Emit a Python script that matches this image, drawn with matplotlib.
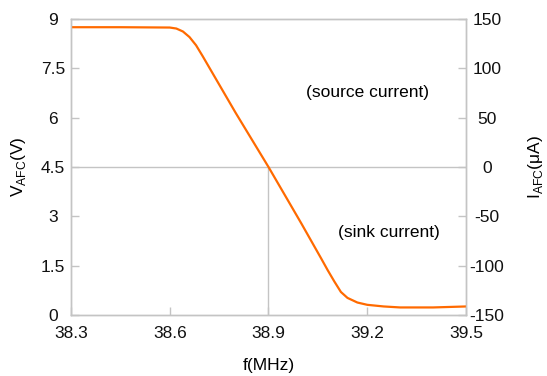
import matplotlib
matplotlib.use("Agg")
import matplotlib.pyplot as plt
import numpy as np

plt.rcParams['font.family'] = ['Liberation Sans', 'DejaVu Sans']
plt.rcParams['mathtext.fontset'] = 'custom'
plt.rcParams['mathtext.rm'] = 'Liberation Sans'

# curve
freq = [38.30, 38.45, 38.60, 38.62, 38.64, 38.66, 38.68, 38.70, 38.80, 38.90,
        39.00, 39.06, 39.08, 39.10, 39.12, 39.14, 39.17, 39.20, 39.25, 39.30, 39.40, 39.50]
vafc = [8.75, 8.75, 8.74, 8.71, 8.62, 8.45, 8.20, 7.87, 6.15, 4.50,
        2.78, 1.72, 1.36, 1.02, 0.70, 0.52, 0.38, 0.31, 0.26, 0.23, 0.23, 0.26]

xticks = [38.3, 38.6, 38.9, 39.2, 39.5]
vticks = [0, 1.5, 3, 4.5, 6, 7.5, 9]
vlabels = ['0', '1.5', '3', '4.5', '6', '7.5', '9']
iticks = [-150, -100, -50, 0, 50, 100, 150]

fzero = 38.9
vzero = 4.5

orange = '#ff6a00'
gray = '#c4c4c4'
fs = 12.5

fig = plt.figure(figsize=(5.47, 3.76), dpi=100)
ax = fig.add_axes([0.1298, 0.1622, 0.7221, 0.7873])
ax.plot(freq, vafc, color=orange, lw=1.6, zorder=3)
ax.axhline(vzero, color=gray, lw=1.0, zorder=1)
ax.plot([fzero, fzero], [0, vzero], color=gray, lw=1.0, zorder=1)

ax.set_xlim(38.3, 39.5)
ax.set_ylim(0, 9)
ax.set_xticks(xticks)
ax.set_xticklabels([str(x) for x in xticks])
ax.set_yticks(vticks)
ax.set_yticklabels(vlabels)

ax2 = ax.twinx()
ax2.set_ylim(-150, 150)
ax2.set_yticks(iticks)
ax2.set_yticklabels([str(i) for i in iticks])

for a in (ax, ax2):
    for s in a.spines.values():
        s.set_color(gray)
        s.set_linewidth(1.0)
    a.tick_params(direction='in', length=6, width=1.0, color=gray, labelsize=fs, labelcolor='#111111')

ax.tick_params(axis='x', pad=8)
ax.tick_params(axis='y', pad=13)
ax2.tick_params(axis='y', pad=15)
for lab in ax.get_yticklabels():
    lab.set_horizontalalignment('center')
for lab in ax2.get_yticklabels():
    lab.set_horizontalalignment('center')

ax.set_xlabel('f(MHz)', fontsize=fs, labelpad=12)
ax.set_ylabel(r'V$_{\mathrm{AFC}}$(V)', fontsize=fs, labelpad=9)
ax2.set_ylabel(r'I$_{\mathrm{AFC}}$(μA)', fontsize=fs, labelpad=16)

ax.text(39.014, 6.78, '(source current)', fontsize=fs, ha='left', va='center')
ax.text(39.11, 2.52, '(sink current)', fontsize=fs, ha='left', va='center')

fig.savefig('out.png', dpi=100)
